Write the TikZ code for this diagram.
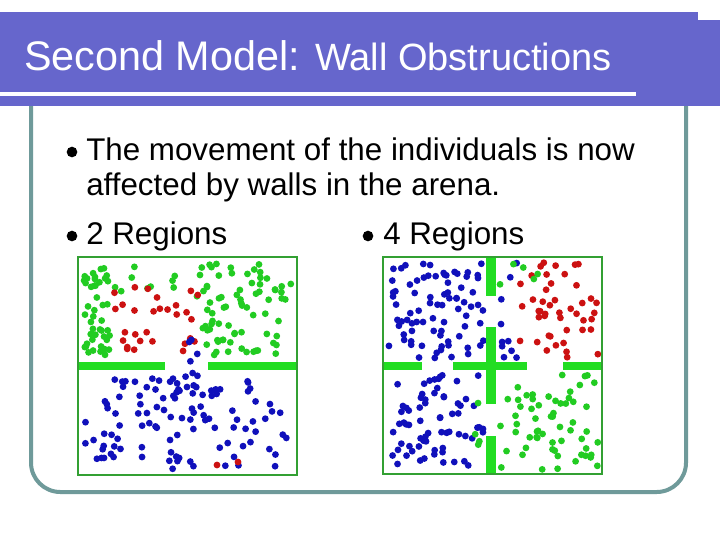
\documentclass[tikz,border=0pt]{standalone}
\usepackage{fontspec}
\setmainfont{Liberation Sans}
\definecolor{barblue}{HTML}{6666CC}
\definecolor{frame}{HTML}{6F9A9A}
\definecolor{wallg}{HTML}{22DD22}
\definecolor{boxg}{HTML}{33A033}
\definecolor{dg}{HTML}{22CC22}
\definecolor{dr}{HTML}{CC1111}
\definecolor{db}{HTML}{1010BB}
\tikzset{wall/.style={fill=wallg,draw=none},
 arena/.style={draw=boxg,line width=1.5pt},
 bul/.style={circle,fill=black,inner sep=0pt,minimum size=8pt},
 body/.style={font=\fontsize{23.5}{26}\selectfont,anchor=base west,inner sep=0pt}}
\newcommand{\scat}[6]{% color, n, x0, y0, x1, y1
 \foreach \k in {1,...,#2}{\pgfmathsetmacro\xx{#3+rnd*(#5-#3)}\pgfmathsetmacro\yy{#4+rnd*(#6-#4)}
 \fill[#1] (\xx,\yy) circle (3.4);}}
\begin{document}
\begin{tikzpicture}[x=0.75pt,y=-0.75pt]
\useasboundingbox (0,0) rectangle (720,540);
\fill[white] (0,0) rectangle (720,540);
% frame
\draw[frame,line width=3pt,rounded corners=22pt] (31,100) -- (31,492) -- (686,492) -- (686,100);
% title bar
\fill[barblue] (0,12) rectangle (698,106);
\fill[barblue] (692,20) rectangle (720,106);
\fill[white] (0,92) rectangle (636,96);
\node[anchor=base west,text=white,inner sep=0pt,font=\fontsize{31}{33}\selectfont] (title) at (24,70) {Second Model: {\fontsize{28.5}{30}\selectfont Wall Obstructions}};
% bullets
\node[bul] (b1) at (72,152) {};
\node[body] (t1) at (86,160) {The movement of the individuals is now};
\node[body] (t2) at (86,195) {affected by walls in the arena.};
\node[bul] (b2) at (72,236) {};
\node[body] (t3) at (86,244) {2 Regions};
\node[bul] (b3) at (368,236) {};
\node[body] (t4) at (383,244) {4 Regions};
% left arena
\pgfmathsetseed{7}
\scat{dg}{45}{84}{263}{110}{355}
\scat{dg}{75}{200}{263}{292}{355}
\scat{dg}{10}{110}{263}{200}{300}
\scat{dr}{30}{110}{285}{200}{355}
\scat{db}{6}{165}{330}{200}{385}
\scat{db}{110}{84}{375}{292}{470}
\fill[dr] (217,465) circle (3.4); \fill[dr] (238,462) circle (3.4);
\fill[wall] (78,362) rectangle (165,370);
\fill[wall] (208,362) rectangle (297,370);
\draw[arena] (78,257) rectangle (297,475);
% right arena
\scat{db}{80}{388}{262}{484}{358}
\scat{db}{10}{498}{262}{520}{358}
\scat{dr}{45}{520}{262}{598}{358}
\scat{dg}{5}{498}{262}{540}{285}
\scat{db}{70}{388}{375}{484}{470}
\scat{dg}{60}{500}{375}{598}{470}
\scat{dg}{4}{474}{380}{484}{450}
\fill[wall] (383,362) rectangle (422,370);
\fill[wall] (453,362) rectangle (527,370);
\fill[wall] (563,362) rectangle (602,370);
\fill[wall] (486,257) rectangle (496,296);
\fill[wall] (486,327) rectangle (496,404);
\fill[wall] (486,436) rectangle (496,474);
\draw[arena] (383,257) rectangle (602,474);
\end{tikzpicture}
\end{document}
